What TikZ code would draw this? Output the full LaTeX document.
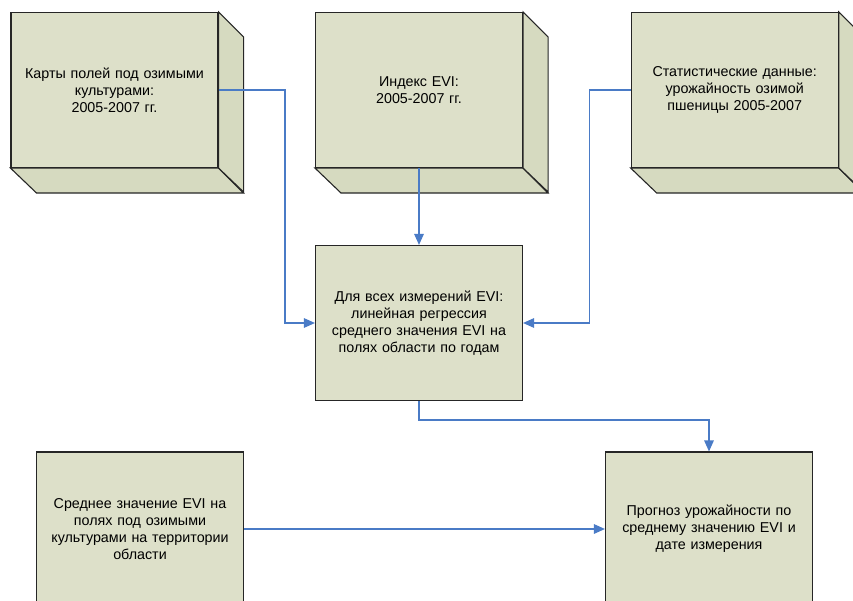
\documentclass[tikz,border=0pt]{standalone}
\usepackage{fontspec}
\setmainfont{Liberation Sans}
\usetikzlibrary{arrows.meta}
\definecolor{faceclr}{HTML}{DDE0C9}
\definecolor{sideclr}{HTML}{D6DAC0}
\definecolor{edgeclr}{HTML}{262626}
\definecolor{linkclr}{HTML}{4A7BC6}
\tikzset{
  stepbox/.style={draw=edgeclr, fill=faceclr, line width=1.1pt, minimum width=207pt,
    align=center, inner sep=0pt, text width=204pt,
    font=\fontsize{14.3pt}{17pt}\selectfont},
  sideface/.style={draw=edgeclr, fill=sideclr, line width=1.1pt, line join=miter},
  link/.style={draw=linkclr, line width=1.4pt,
    -{Triangle[length=11pt,width=9.5pt]}}
}
\newcommand{\boxdepth}[1]{%
  % bottom and right faces of an extruded box behind node #1
  \path[sideface] (#1.south west) -- (#1.south east) -- ++(25,25) -- ++(-207,0) -- cycle;
  \path[sideface] (#1.north east) -- ++(25,25) -- ++(0,155) -- (#1.south east) -- cycle;
}
\begin{document}
\begin{tikzpicture}[x=1pt, y=-1pt]
  \useasboundingbox (0,0) rectangle (853,601);

  % extruded input boxes
  \node[stepbox, minimum height=155pt] (maps) at (114.5,90)
    {Карты полей под озимыми\\культурами:\\2005-2007 гг.};
  \node[stepbox, minimum height=155pt] (evi) at (419,90)
    {Индекс EVI:\\2005-2007 гг.};
  \node[stepbox, minimum height=155pt] (stats) at (734.7,90)
    {Статистические данные:\\урожайность озимой\\пшеницы 2005-2007};
  \boxdepth{maps}
  \boxdepth{evi}
  \boxdepth{stats}

  % regression step
  \node[stepbox, minimum height=155pt] (regr) at (419,323)
    {Для всех измерений EVI:\\линейная регрессия\\среднего значения EVI на\\полях области по годам};

  % lower row
  \node[stepbox, minimum height=154pt] (mean) at (140,529)
    {Среднее значение EVI на\\полях под озимыми\\культурами на территории\\области};
  \node[stepbox, minimum height=154pt] (fcst) at (709,529)
    {Прогноз урожайности по\\среднему значению EVI и\\дате измерения};

  % connectors
  \draw[link] (maps.east) -- ++(66.5,0) |- (regr.west);
  \draw[link] (evi.south) -- (regr.north);
  \draw[link] (stats.west) -- ++(-41,0) |- (regr.east);
  \draw[link] (regr.south) -- ++(0,19) -| (fcst.north);
  \draw[link] (mean.east) -- (fcst.west);
\end{tikzpicture}
\end{document}
